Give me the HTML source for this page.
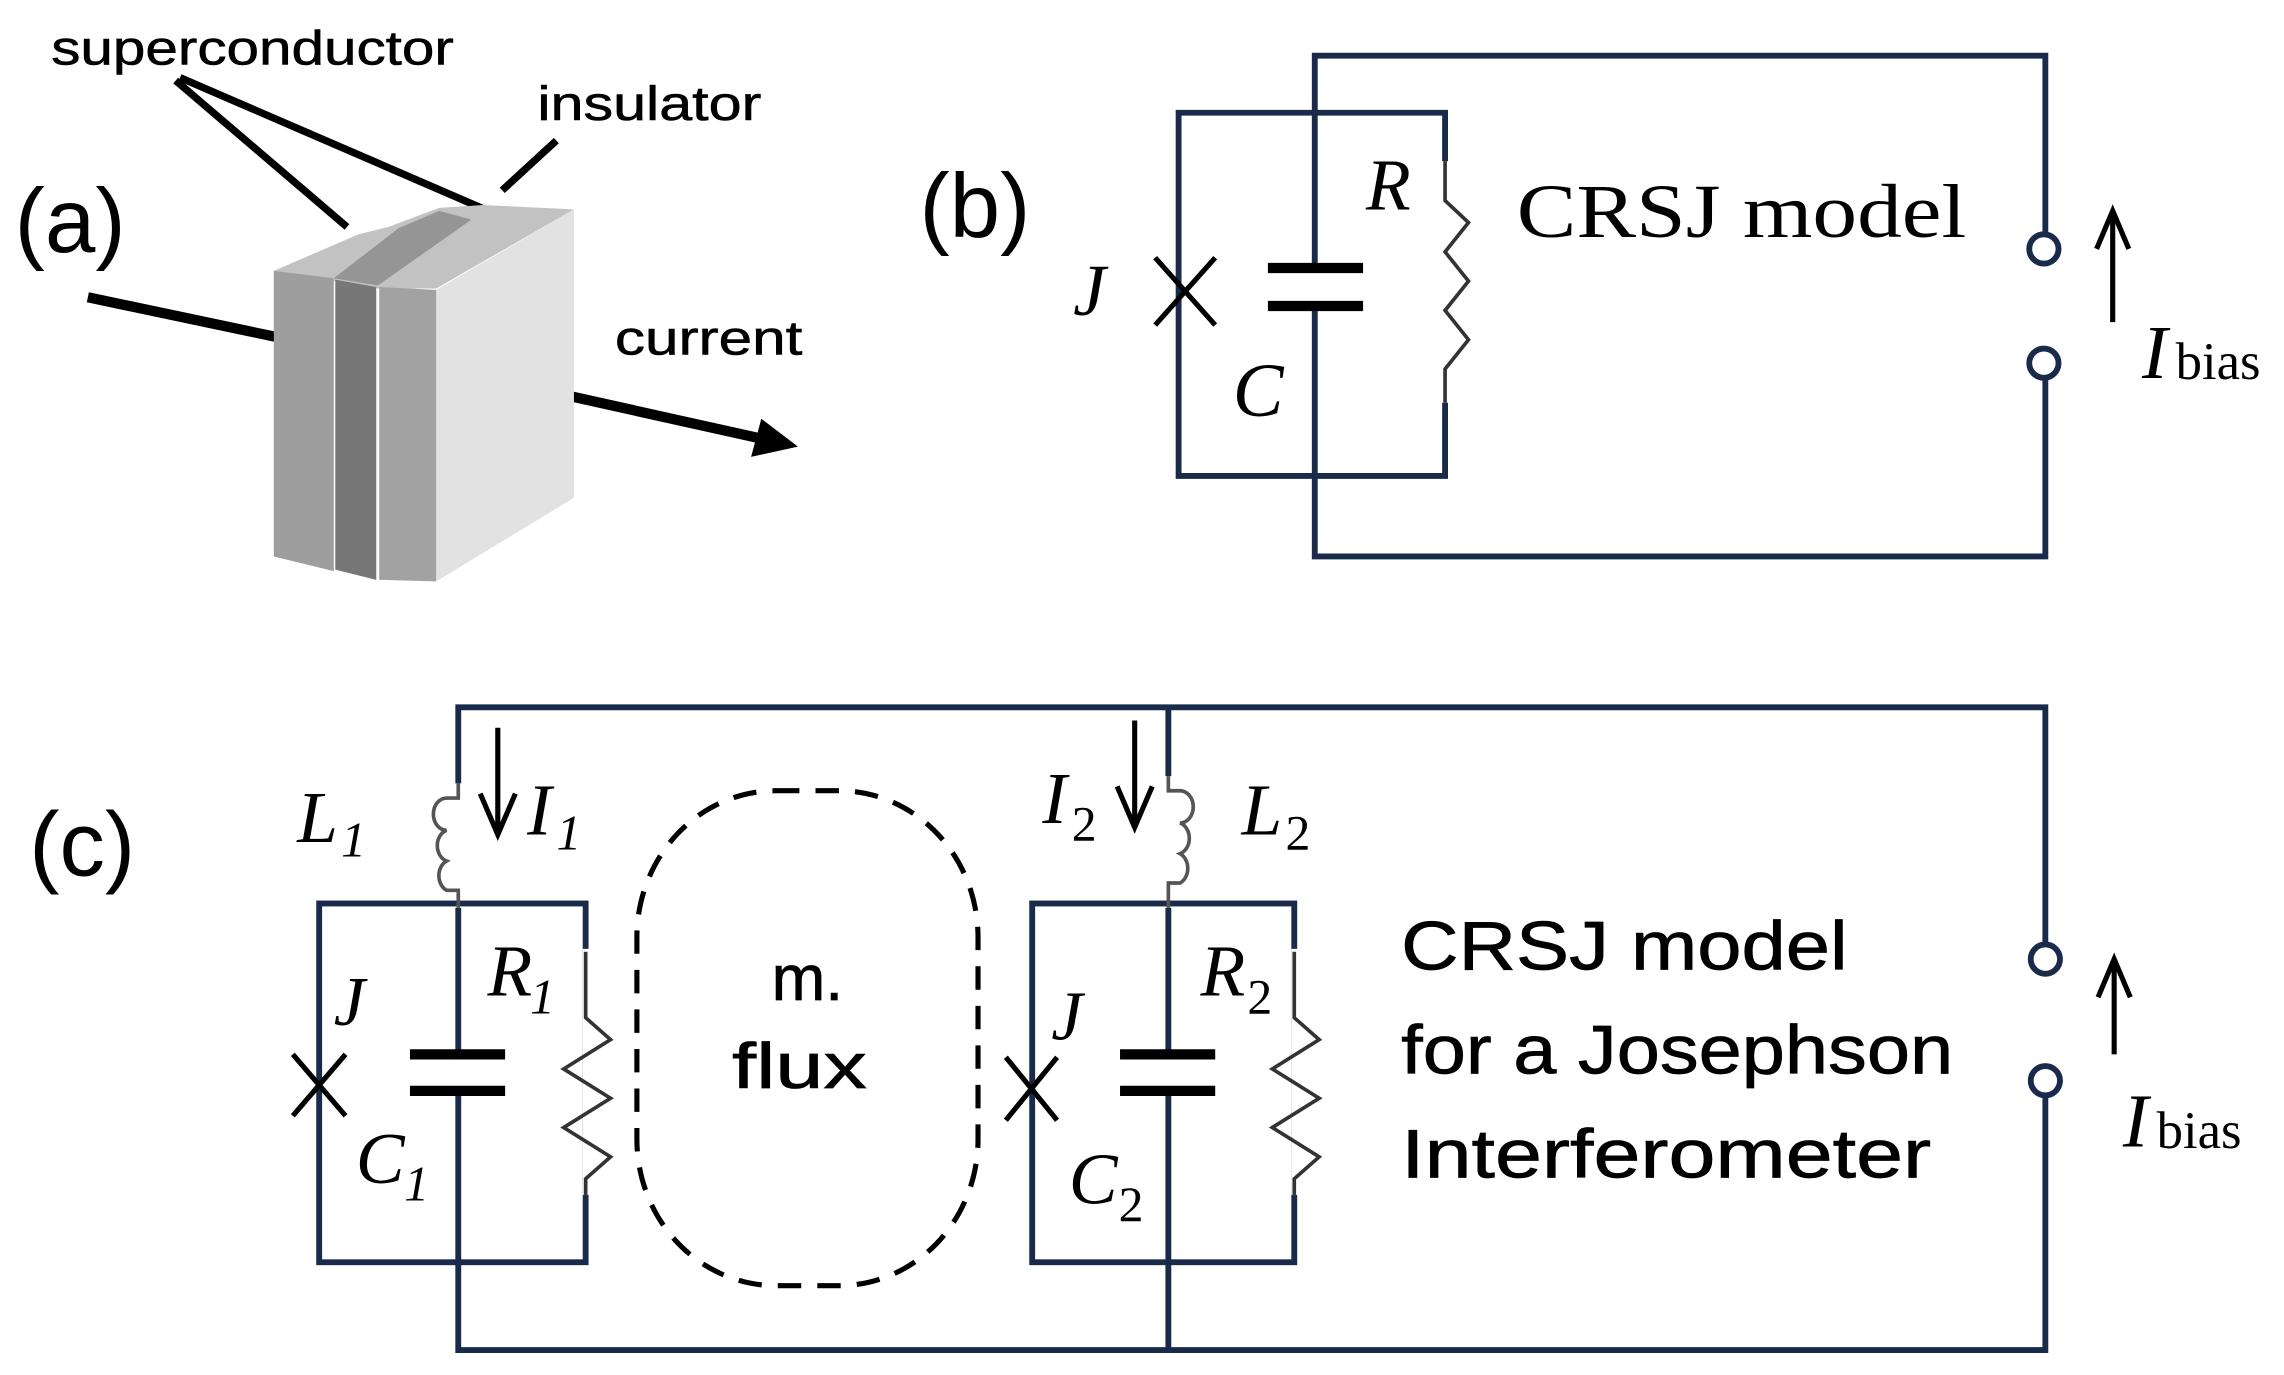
<!DOCTYPE html>
<html><head><meta charset="utf-8"><style>
html,body{margin:0;padding:0;background:#fff;}
svg{display:block;}
.s{font-family:"Liberation Sans",sans-serif;}
.r{font-family:"Liberation Serif",serif;}
.i{font-family:"Liberation Serif",serif;font-style:italic;}
</style></head><body>
<svg width="2284" height="1375" viewBox="0 0 1560 939" preserveAspectRatio="none" xmlns="http://www.w3.org/2000/svg">
<rect width="1560" height="939" fill="#fff"/>
<!-- Panel (a) -->
<text x="35" y="44" class="s" font-size="33" textLength="275" lengthAdjust="spacingAndGlyphs" stroke="#000" stroke-width="0.4">superconductor</text>
<text x="367" y="82" class="s" font-size="33" textLength="153" lengthAdjust="spacingAndGlyphs" stroke="#000" stroke-width="0.4">insulator</text>
<text x="10" y="172" class="s" font-size="62">(a)</text>
<text x="420" y="242" class="s" font-size="33" textLength="128" lengthAdjust="spacingAndGlyphs" stroke="#000" stroke-width="0.4">current</text>
<g stroke="#000" stroke-width="5" fill="none">
<line x1="120" y1="55" x2="237" y2="155"/>
<line x1="123" y1="53" x2="352" y2="152"/>
<line x1="380" y1="96" x2="343" y2="130"/>
<line x1="60" y1="203" x2="188" y2="230" stroke-width="7"/>
<line x1="342" y1="260" x2="522" y2="300" stroke-width="7"/>
</g>
<polygon points="545,305 513,312 520,286" fill="#000"/>
<!-- block -->
<polygon points="187,185 245,160 265,155 300,142 330,140 392,143 298,197 258,197 228,192" fill="#c2c2c2"/>
<polygon points="228,190 258,195 322,150 300,144 272,156" fill="#959595"/>
<polygon points="187,185 228,190 228,390 187,380" fill="#9e9e9e"/>
<polygon points="229,191 257,196 257,396 229,389" fill="#777"/>
<polygon points="259,196 298,198 298,397 259,396" fill="#a2a2a2"/>
<polygon points="298,198 392,143 392,340 298,397" fill="#e2e2e2"/>
<!-- Panel (b) -->
<g stroke="#1a2a4a" stroke-width="4" fill="none">
<polyline points="898,77 898,38 1397,38 1397,160"/>
<polyline points="1397,258 1397,380 898,380 898,325"/>
<circle cx="1396" cy="170" r="10"/>
<circle cx="1396" cy="248" r="10"/>
<polyline points="987,110 987,77 805,77 805,325 987,325 987,275"/>
<line x1="898" y1="77" x2="898" y2="183"/>
<line x1="898" y1="209" x2="898" y2="325"/>
</g>
<g stroke="#000" fill="none">
<line x1="866" y1="183" x2="931" y2="183" stroke-width="7"/>
<line x1="866" y1="209" x2="931" y2="209" stroke-width="7"/>
<line x1="789" y1="176" x2="830" y2="222" stroke-width="3.5"/>
<line x1="830" y1="176" x2="789" y2="222" stroke-width="3.5"/>
<polyline points="987,110 987,137 1003,152 987,172 1003,192 987,212 1003,232 987,252 987,275" stroke-width="2.5" stroke="#333"/>
<line x1="1443" y1="220" x2="1443" y2="146" stroke-width="3.5"/>
<polyline points="1432,170 1443,144 1454,170" stroke-width="3.5"/>
</g>
<text x="628" y="162" class="s" font-size="62">(b)</text>
<text x="733" y="215" class="i" font-size="50">J</text>
<text x="933" y="143" class="i" font-size="50">R</text>
<text x="842" y="284" class="i" font-size="52">C</text>
<text x="1036" y="162" class="r" font-size="52" textLength="307" lengthAdjust="spacingAndGlyphs">CRSJ model</text>
<text x="1463" y="258" class="i" font-size="52">I</text>
<text x="1486" y="259" class="r" font-size="36">bias</text>
<!-- Panel (c) -->
<g stroke="#1a2a4a" stroke-width="4" fill="none">
<polyline points="313,535 313,483 1397,483 1397,645"/>
<polyline points="1397,748 1397,922 313,922 313,745"/>
<circle cx="1397" cy="655" r="10"/>
<circle cx="1397" cy="738" r="10"/>
<line x1="313" y1="620" x2="313" y2="720"/>
<rect x="218" y="617" width="182" height="245"/>
<line x1="798" y1="483" x2="798" y2="530"/>
<line x1="798" y1="620" x2="798" y2="720"/>
<line x1="798" y1="745" x2="798" y2="922"/>
<rect x="705" y="617" width="179" height="245"/>
</g>
<rect x="398" y="648" width="8" height="168" fill="#fff"/>
<rect x="882" y="648" width="8" height="168" fill="#fff"/>
<g stroke="#000" fill="none">
<line x1="280" y1="720" x2="345" y2="720" stroke-width="7"/>
<line x1="280" y1="745" x2="345" y2="745" stroke-width="7"/>
<line x1="765" y1="720" x2="830" y2="720" stroke-width="7"/>
<line x1="765" y1="745" x2="830" y2="745" stroke-width="7"/>
<line x1="200" y1="720" x2="236" y2="762" stroke-width="3.5"/>
<line x1="236" y1="720" x2="200" y2="762" stroke-width="3.5"/>
<line x1="687" y1="722" x2="722" y2="765" stroke-width="3.5"/>
<line x1="722" y1="722" x2="687" y2="765" stroke-width="3.5"/>
<polyline points="400,650 400,695 417,710 385,730 417,750 385,770 417,790 400,805 400,816" stroke-width="2.5" stroke="#333"/>
<polyline points="884,650 884,695 901,710 869,730 901,750 869,770 901,790 884,805 884,816" stroke-width="2.5" stroke="#333"/>
<path d="M313,535 L313,545 L305,545 A9,11 0 0 0 305,567 A9,11 0 0 0 305,588 A9,11 0 0 0 305,608 L313,608 L313,620" stroke-width="2.5" stroke="#555"/>
<path d="M798,530 L798,540 L806,540 A9,11 0 0 1 806,562 A9,11 0 0 1 806,583 A9,11 0 0 1 806,603 L798,603 L798,620" stroke-width="2.5" stroke="#555"/>
<rect x="435" y="540" width="233" height="338" rx="95" ry="100" stroke-width="3.5" stroke-dasharray="16,11"/>
<line x1="340" y1="497" x2="340" y2="568" stroke-width="3.5"/>
<polyline points="328,542 340,570 352,542" stroke-width="3.5"/>
<line x1="775" y1="492" x2="775" y2="563" stroke-width="3.5"/>
<polyline points="763,537 775,565 787,537" stroke-width="3.5"/>
<line x1="1444" y1="720" x2="1444" y2="657" stroke-width="3.5"/>
<polyline points="1433,681 1444,655 1455,681" stroke-width="3.5"/>
</g>
<text x="20" y="598" class="s" font-size="62">(c)</text>
<text x="203" y="575" class="i" font-size="50">L</text><text x="233" y="585" class="i" font-size="34">1</text>
<text x="360" y="570" class="i" font-size="50">I</text><text x="380" y="580" class="i" font-size="34">1</text>
<text x="712" y="562" class="i" font-size="50">I</text><text x="732" y="574" class="r" font-size="34">2</text>
<text x="848" y="570" class="i" font-size="50">L</text><text x="878" y="580" class="r" font-size="34">2</text>
<text x="228" y="700" class="i" font-size="48">J</text>
<text x="333" y="680" class="i" font-size="50">R</text><text x="362" y="692" class="i" font-size="34">1</text>
<text x="243" y="808" class="i" font-size="50">C</text><text x="276" y="820" class="i" font-size="34">1</text>
<text x="718" y="710" class="i" font-size="48">J</text>
<text x="820" y="680" class="i" font-size="50">R</text><text x="852" y="692" class="r" font-size="34">2</text>
<text x="730" y="822" class="i" font-size="50">C</text><text x="764" y="834" class="r" font-size="34">2</text>
<text x="527" y="683" class="s" font-size="44" stroke="#000" stroke-width="0.5">m.</text>
<text x="500" y="743" class="s" font-size="44" textLength="92" lengthAdjust="spacingAndGlyphs" stroke="#000" stroke-width="0.5">flux</text>
<text x="957" y="662" class="s" font-size="47" textLength="305" lengthAdjust="spacingAndGlyphs" stroke="#000" stroke-width="0.5">CRSJ model</text>
<text x="957" y="733" class="s" font-size="47" textLength="377" lengthAdjust="spacingAndGlyphs" stroke="#000" stroke-width="0.5">for a Josephson</text>
<text x="957" y="804" class="s" font-size="47" textLength="362" lengthAdjust="spacingAndGlyphs" stroke="#000" stroke-width="0.5">Interferometer</text>
<text x="1450" y="783" class="i" font-size="52">I</text>
<text x="1473" y="784" class="r" font-size="36">bias</text>
</svg>
</body></html>
